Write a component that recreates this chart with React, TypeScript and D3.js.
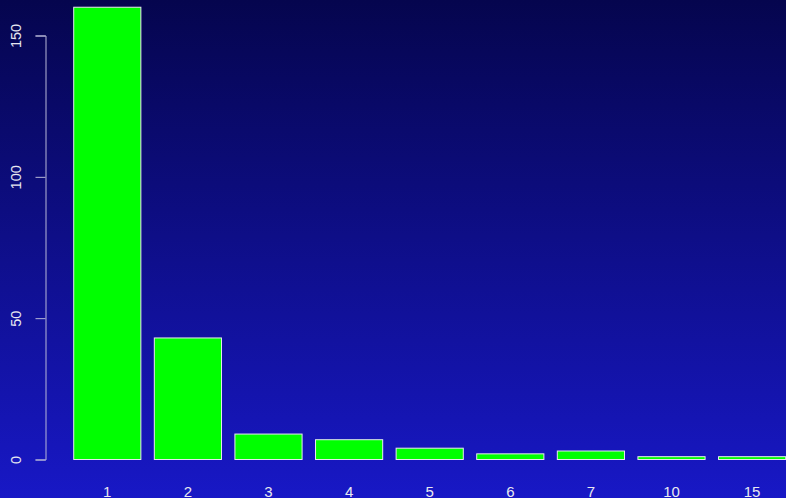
import { useEffect, useRef } from "react";
import * as d3 from "d3";

const categories = ["1", "2", "3", "4", "5", "6", "7", "10", "15"];
const counts = [160, 43, 9, 7, 4, 2, 3, 1, 1];
const yTicks = [0, 50, 100, 150];

const width = 786, height = 498;

const App = () => {
  const ref = useRef<SVGSVGElement>(null);

  useEffect(() => {
    const svg = d3.select(ref.current);
    svg.selectAll("*").remove();

    const defs = svg.append("defs");
    const grad = defs.append("linearGradient")
      .attr("id", "bg")
      .attr("x1", 0).attr("y1", 0).attr("x2", 0).attr("y2", 1);
    grad.append("stop").attr("offset", "0%").attr("stop-color", "#05054e");
    grad.append("stop").attr("offset", "100%").attr("stop-color", "#1818c6");

    svg.append("rect")
      .attr("width", width)
      .attr("height", height)
      .attr("fill", "url(#bg)");

    const x = d3.scaleBand()
      .domain(categories)
      .range([67, 67 + 9 * 80.6])
      .paddingInner(0.1667)
      .paddingOuter(0.0833);

    const y = d3.scaleLinear()
      .domain([0, 150])
      .range([459.5, 35.5]);

    // bars
    svg.append("g")
      .selectAll("rect")
      .data(counts)
      .join("rect")
        .attr("x", (_, i) => x(categories[i]) as number)
        .attr("y", d => y(d))
        .attr("width", x.bandwidth())
        .attr("height", d => y(0) - y(d))
        .attr("fill", "#00ff00")
        .attr("stroke", "#e8e8f0")
        .attr("stroke-width", 1);

    // y axis
    const yAxis = svg.append("g")
      .attr("transform", "translate(45.5,0)")
      .call(d3.axisLeft(y).tickValues(yTicks).tickSize(10).tickPadding(0).tickFormat(d3.format("d")));
    yAxis.select(".domain").attr("stroke", "#b8b8d8");
    yAxis.selectAll(".tick line").attr("stroke", "#b8b8d8");
    yAxis.selectAll(".tick text")
      .attr("fill", "#e8e8f0")
      .attr("font-family", "Liberation Sans, Arial, sans-serif")
      .attr("font-size", 14.5)
      .attr("text-anchor", "middle")
      .attr("x", 0)
      .attr("dy", 0)
      .attr("transform", "translate(-25,0) rotate(-90)");

    // x labels (no axis line, like R barplot)
    svg.append("g")
      .selectAll("text")
      .data(categories)
      .join("text")
        .attr("x", d => (x(d) as number) + x.bandwidth() / 2)
        .attr("y", 497)
        .attr("text-anchor", "middle")
        .attr("fill", "#e8e8f0")
        .attr("font-family", "Liberation Sans, Arial, sans-serif")
        .attr("font-size", 15)
        .text(d => d);
  }, []);

  return (
    <svg
      ref={ref}
      width={width}
      height={height}
      style={{ position: "fixed", top: 0, left: 0, display: "block" }}
    />
  );
};

export default App;
